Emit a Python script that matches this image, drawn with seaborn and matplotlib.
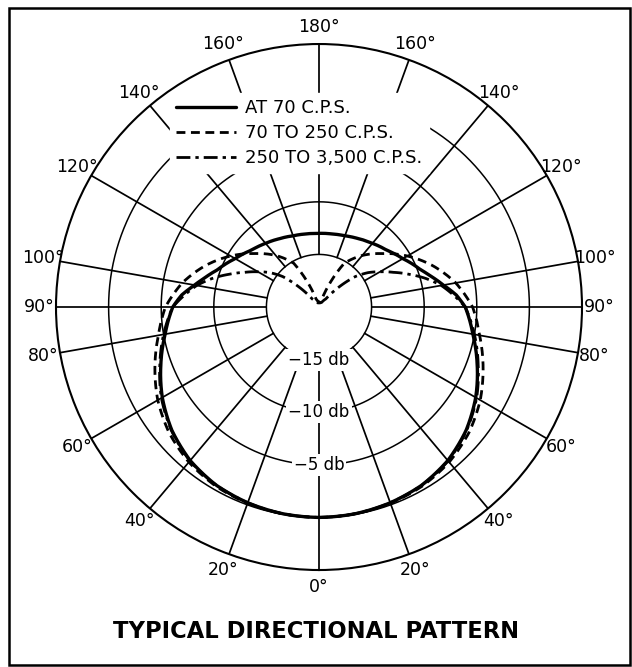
"""
Polar response chart of a directional microphone, drawn the way the
old catalogue sheet shows it: 0 deg at the bottom, db rings, one half
of the pattern read off and mirrored to the other side.
"""

import numpy as np
import matplotlib
matplotlib.use("Agg")
import matplotlib.pyplot as plt
import seaborn as sns
from matplotlib.patches import Rectangle

# --- 1. Data (angle off axis in degrees, level in db) ---
ang_70 = [0, 10, 20, 30, 40, 50, 60, 70, 80, 90, 95, 100, 105, 110, 120, 130, 140, 150,
          160, 170, 180]
db_70 = [0.0, -0.05, -0.2, -0.45, -0.95, -1.75, -2.8, -4.0, -5.15, -6.1, -6.9, -8.0,
         -8.9, -9.7, -10.8, -11.6, -12.1, -12.5, -12.8, -12.95, -13.0]

ang_mid = [0, 10, 20, 30, 40, 50, 60, 70, 80, 90, 100, 110, 120, 130, 140, 150, 155, 160,
           170, 180]
db_mid = [0.0, -0.05, -0.15, -0.35, -0.75, -1.4, -2.3, -3.4, -4.5, -5.4, -6.8, -8.5,
          -10.3, -12.1, -13.6, -15.2, -17.3, -19.2, -19.5, -19.6]

ang_high = [0, 10, 20, 30, 40, 50, 60, 70, 80, 90, 100, 105, 110, 115, 120, 125, 130,
            135, 140, 150, 165, 180]
db_high = [0.0, -0.05, -0.2, -0.45, -0.9, -1.7, -2.7, -3.9, -5.0, -6.1, -8.2, -9.5,
           -10.9, -12.2, -13.3, -14.3, -15.5, -17.3, -19.0, -19.5, -19.6, -19.6]

series_labels = ["AT 70 C.P.S.", "70 TO 250 C.P.S.", "250 TO 3,500 C.P.S."]

spoke_deg = [0, 20, 40, 60, 80, 90, 100, 120, 140, 160, 180]
ring_db = [-15, -10, -5, 0]
ring_labels = ["\u221215 db", "\u221210 db", "\u22125 db"]

DB_FLOOR = -20   # level at the centre of the chart
DB_TOP = 5       # level at the outer circle


def mirror(ang, db):
    """Both halves of a symmetric pattern, as one closed line."""
    a = np.radians(ang)
    r = np.asarray(db) - DB_FLOOR
    theta = np.concatenate([a, 2 * np.pi - a[::-1][1:]])
    rad = np.concatenate([r, r[::-1][1:]])
    return theta, rad


def both_sides(d):
    """Angles on the left and right of the axis (one for 0 and 180)."""
    return sorted({d % 360, (360 - d) % 360})


# --- 2. Figure ---
sns.set_style("white")
plt.rcParams["font.family"] = ["DejaVu Sans"]
plt.rcParams["text.color"] = "black"

fig = plt.figure(figsize=(6.32, 6.67), dpi=100)
ax = fig.add_axes([0.0886, 0.1454, 0.8323, 0.7886], projection="polar")
ax.set_theta_zero_location("S")
ax.set_ylim(0, DB_TOP - DB_FLOOR)
ax.set_xticks([])
ax.set_yticks([])
ax.grid(False)
ax.spines["polar"].set_linewidth(1.5)
ax.spines["polar"].set_color("black")

# rings and spokes
circ = np.linspace(0, 2 * np.pi, 721)
for d in ring_db:
    ax.plot(circ, np.full_like(circ, d - DB_FLOOR), color="black", lw=1.1, zorder=1)
inner = ring_db[0] - DB_FLOOR
for d in spoke_deg:
    for t in both_sides(d):
        ax.plot([np.radians(t)] * 2, [inner, DB_TOP - DB_FLOOR], color="black",
                lw=1.25, zorder=1)

# the three patterns
styles = [
    dict(linestyle="-", lw=2.4),
    dict(linestyle=(0, (3.2, 2.0)), lw=2.0),
    dict(linestyle=(0, (5.0, 1.8, 1.2, 1.8)), lw=2.0),
]
for (ang, db), lab, st in zip([(ang_70, db_70), (ang_mid, db_mid), (ang_high, db_high)],
                              series_labels, styles):
    th, rr = mirror(ang, db)
    sns.lineplot(x=th, y=rr, ax=ax, sort=False, estimator=None, color="black",
                 label=lab, zorder=3, **st)

# draw the pattern lines as arcs in (theta, r), like the hand-drawn curves
for line in ax.get_lines()[-3:]:
    line.get_path()._interpolation_steps = 40

# ring labels down the 0 deg spoke
for d, lab in zip(ring_db, ring_labels):
    ax.text(0, d - DB_FLOOR, lab, ha="center", va="center", fontsize=12,
            bbox=dict(fc="white", ec="none", pad=1.5), zorder=4)

# angle labels round the rim
for d in spoke_deg:
    for t in both_sides(d):
        ax.text(np.radians(t), 26.6, f"{d}\u00b0", ha="center", va="center",
                fontsize=12.5)

leg = ax.legend(loc="upper left", bbox_to_anchor=(170 / 632, 1 - 93 / 667),
                bbox_transform=fig.transFigure, fontsize=13, frameon=True,
                framealpha=1, facecolor="white", edgecolor="white", fancybox=False,
                handlelength=3.3, handletextpad=0.5, labelspacing=0.38,
                borderpad=0.35, borderaxespad=0)
leg.set_zorder(5)

fig.text(0.5, 1 - 632 / 667, "TYPICAL DIRECTIONAL PATTERN", ha="center",
         va="center", fontsize=16.3, fontweight="bold")

fig.add_artist(Rectangle((9 / 632, 2 / 667), 621 / 632, 657 / 667,
                         transform=fig.transFigure, fill=False, lw=1.8,
                         edgecolor="black"))

fig.savefig("out.png", dpi=100)
plt.close(fig)
